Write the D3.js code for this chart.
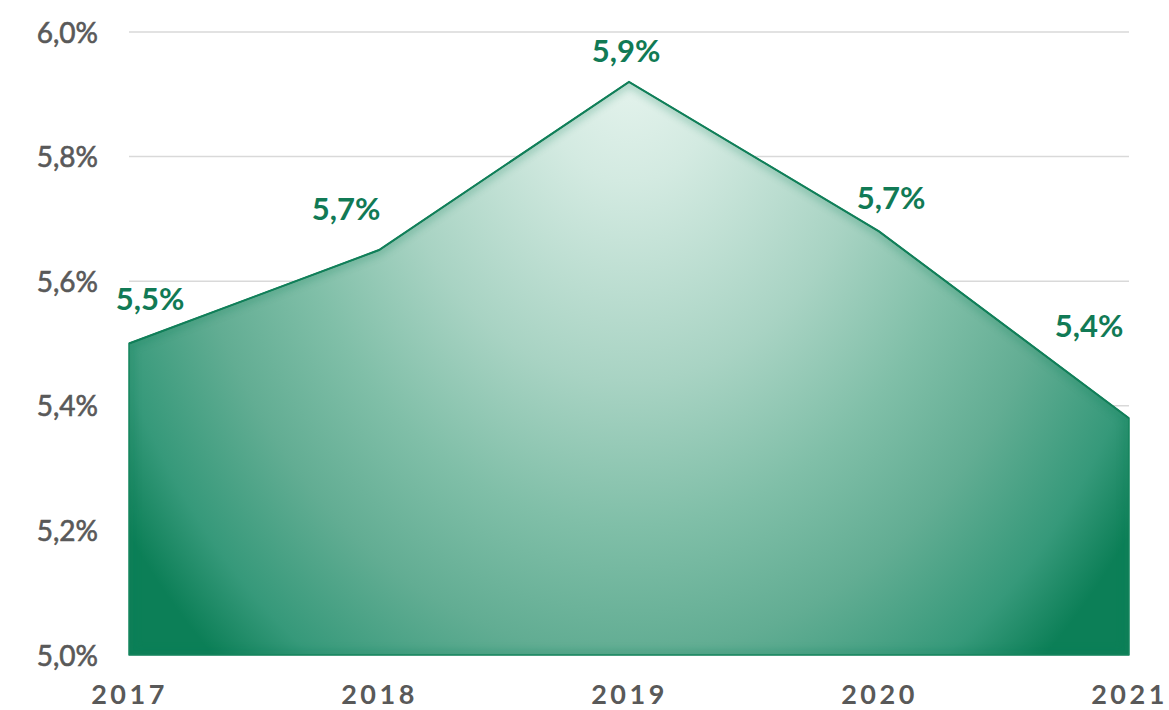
<!DOCTYPE html>
<html>
<head>
<meta charset="utf-8">
<script src="https://cdn.jsdelivr.net/npm/d3@7"></script>
<style>
  html, body { margin: 0; padding: 0; background: #ffffff; }
  svg text { font-family: Lato, "Open Sans", "Noto Sans", sans-serif; }
  .y-axis text { fill: #595959; stroke: #595959; stroke-width: 0.6px; font-size: 28px; font-weight: 400; }
  .x-axis text { fill: #595959; font-size: 27px; font-weight: 700; letter-spacing: 3.5px; }
  .value-label { fill: #117a55; font-size: 31px; font-weight: 700; }
</style>
</head>
<body>
<div id="chart"></div>
<script>
const years = ["2017", "2018", "2019", "2020", "2021"];
const rates = [5.50, 5.65, 5.92, 5.68, 5.38];
const rateLabels = ["5,5%", "5,7%", "5,9%", "5,7%", "5,4%"];
const yTicks = [5.0, 5.2, 5.4, 5.6, 5.8, 6.0];

const WIDTH = 1169;
const HEIGHT = 710;

// label nudges relative to each point (px), as placed in the original
const labelNudge = [
  { dx: 21, dy: -34 },
  { dx: -33, dy: -30 },
  { dx: -3, dy: -20 },
  { dx: 12, dy: -22 },
  { dx: -40, dy: -81 },
];

const svg = d3
  .select("#chart")
  .append("svg")
  .attr("width", WIDTH)
  .attr("height", HEIGHT)
  .attr("viewBox", `0 0 ${WIDTH} ${HEIGHT}`)
  .style("display", "block");

const x = d3.scalePoint().domain(years).range([129, 1129]);
const y = d3.scaleLinear().domain([5.0, 6.0]).range([655, 32]);

const data = years.map((year, i) => ({ year, value: rates[i], label: rateLabels[i] }));

// gradient: light at the peak, dark toward the edges
const defs = svg.append("defs");
const grad = defs
  .append("radialGradient")
  .attr("id", "areaFill")
  .attr("gradientUnits", "userSpaceOnUse")
  .attr("cx", 0)
  .attr("cy", 0)
  .attr("r", 1)
  .attr("gradientTransform", `translate(${x("2019")},${y(5.92) - 20}) scale(620,800)`);

[
  [0, "#e6f4ee"],
  [0.15, "#d3eae1"],
  [0.4, "#a8d3c3"],
  [0.58, "#80bfa8"],
  [0.74, "#62ad93"],
  [0.9, "#36997a"],
  [1, "#0c7f57"],
].forEach(([offset, color]) => grad.append("stop").attr("offset", offset).attr("stop-color", color));

defs
  .append("filter")
  .attr("id", "soft")
  .attr("x", "-10%")
  .attr("y", "-10%")
  .attr("width", "120%")
  .attr("height", "120%")
  .append("feGaussianBlur")
  .attr("stdDeviation", 4);

// grid
svg
  .append("g")
  .attr("class", "grid")
  .selectAll("line")
  .data(yTicks)
  .join("line")
  .attr("x1", x.range()[0])
  .attr("x2", x.range()[1])
  .attr("y1", (d) => y(d))
  .attr("y2", (d) => y(d))
  .attr("stroke", "#d9d9d9")
  .attr("stroke-width", 1.5);

// y axis labels
svg
  .append("g")
  .attr("class", "y-axis")
  .attr("transform", "translate(98,0)")
  .call(
    d3
      .axisLeft(y)
      .tickValues(yTicks)
      .tickSize(0)
      .tickPadding(0)
      .tickFormat((d) => d3.format(".1f")(d).replace(".", ",") + "%")
  )
  .call((g) => g.select(".domain").remove())
  .call((g) => g.selectAll("text").attr("dy", "0.36em"));

// x axis labels
svg
  .append("g")
  .attr("class", "x-axis")
  .attr("transform", "translate(0,704)")
  .call(d3.axisBottom(x).tickSize(0).tickPadding(0))
  .call((g) => g.select(".domain").remove())
  .call((g) => g.selectAll("text").attr("dy", "0"));

// area
const area = d3
  .area()
  .x((d) => x(d.year))
  .y0(y(5.0))
  .y1((d) => y(d.value));

const line = d3
  .line()
  .x((d) => x(d.year))
  .y((d) => y(d.value));

defs.append("clipPath").attr("id", "areaClip").append("path").attr("d", area(data));

svg.append("path").attr("d", area(data)).attr("fill", "url(#areaFill)");

// soft inner edge along the outline
svg
  .append("path")
  .attr("d", area(data))
  .attr("fill", "none")
  .attr("stroke", "#0c7f57")
  .attr("stroke-width", 8)
  .attr("opacity", 0.3)
  .attr("filter", "url(#soft)")
  .attr("clip-path", "url(#areaClip)");

svg
  .append("path")
  .attr("d", area(data))
  .attr("fill", "none")
  .attr("stroke", "#14855e")
  .attr("stroke-width", 1.5)
  .attr("stroke-linejoin", "round");

svg
  .append("path")
  .attr("d", line(data))
  .attr("fill", "none")
  .attr("stroke", "#117f59")
  .attr("stroke-width", 2);

// value labels
svg
  .append("g")
  .selectAll("text")
  .data(data)
  .join("text")
  .attr("class", "value-label")
  .attr("text-anchor", "middle")
  .attr("x", (d, i) => x(d.year) + labelNudge[i].dx)
  .attr("y", (d, i) => y(d.value) + labelNudge[i].dy)
  .text((d) => d.label);
</script>
</body>
</html>
